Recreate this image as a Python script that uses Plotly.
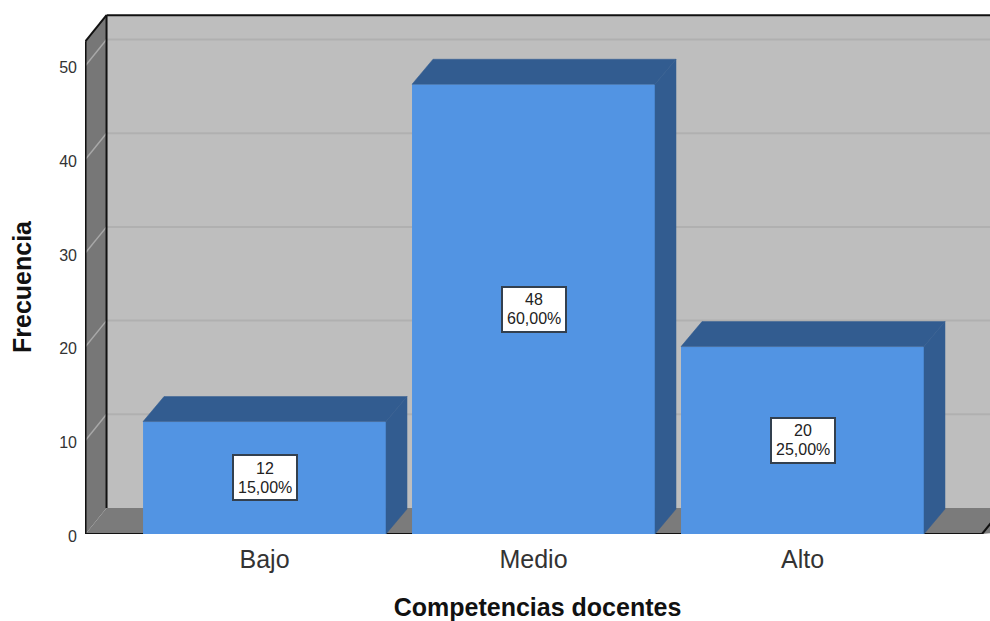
import plotly.graph_objects as go

categories = ["Bajo", "Medio", "Alto"]
counts = [12, 48, 20]
percents = ["15,00%", "60,00%", "25,00%"]
y_ticks = [0, 10, 20, 30, 40, 50]
x_title = "Competencias docentes"
y_title = "Frecuencia"

PX_X = 269.0
PX_Y = 9.37
DX = 21 / PX_X
DY = 26 / PX_Y
BAR_DY = 25 / PX_Y
BAR_W = 243 / PX_X
X_L = (85.5 - 264.5) / PX_X
X_R = (990 - 264.5) / PX_X
X_FLOOR_R = (982 - 264.5) / PX_X
Y_TOP = 52.6
Y_MAX = 534 / PX_Y
FRONT = "#5294e3"
DARK = "#325c90"
WALL = "#bebebe"
SIDE = "#777777"
FLOOR = "#7b7b7b"
GRID = "#b0b0b0"
FONT = "Liberation Sans, Arial, sans-serif"
X_FAR = X_R + 1

fig = go.Figure()
fig.add_trace(go.Bar(x=list(range(3)), y=counts, width=BAR_W,
                     marker=dict(color=FRONT, line=dict(width=0)),
                     hoverinfo="skip", showlegend=False))

for i, v in enumerate(counts):
    l, r = i - BAR_W / 2, i + BAR_W / 2
    fig.add_trace(go.Scatter(
        x=[l, r, r + DX, l + DX, l], y=[v, v, v + BAR_DY, v + BAR_DY, v],
        mode="lines", fill="toself", fillcolor=DARK, line=dict(color=DARK, width=0.5),
        hoverinfo="skip", showlegend=False))
    fig.add_trace(go.Scatter(
        x=[r, r + DX, r + DX, r, r], y=[0, BAR_DY, v + BAR_DY, v, 0],
        mode="lines", fill="toself", fillcolor=DARK, line=dict(color=DARK, width=0.5),
        hoverinfo="skip", showlegend=False))

def poly(xs, ys, fill, layer="below"):
    p = "M " + " L ".join(f"{a},{b}" for a, b in zip(xs, ys)) + " Z"
    return dict(type="path", path=p, xref="x", yref="y", fillcolor=fill,
                line=dict(width=0), layer=layer)

def seg(x0, y0, x1, y1, color, w):
    return dict(type="line", xref="x", yref="y", x0=x0, y0=y0, x1=x1, y1=y1,
                line=dict(color=color, width=w), layer="below")

shapes = [
    poly([X_L + DX, X_FAR, X_FAR, X_L + DX], [DY, DY, Y_TOP + DY, Y_TOP + DY], WALL),
    poly([X_L, X_L + DX, X_L + DX, X_L], [0, DY, Y_TOP + DY, Y_TOP], SIDE),
    poly([X_L, X_L + DX, X_FAR, X_FLOOR_R], [0, DY, DY, 0], FLOOR),
]
for t in y_ticks[1:]:
    shapes.append(seg(X_L, t, X_L + DX, t + DY, "#a8a8a8", 1.5))
    shapes.append(seg(X_L + DX, t + DY, X_FAR, t + DY, GRID, 2))
shapes += [
    seg(X_L, 0, X_L, Y_TOP, "#111111", 2),
    seg(X_L + DX, DY, X_L + DX, Y_TOP + DY, "#111111", 2),
    seg(X_L, Y_TOP, X_L + DX, Y_TOP + DY, "#111111", 2),
    seg(X_L + DX, Y_TOP + DY, X_FAR, Y_TOP + DY, "#111111", 2),
    seg(X_L, 0, X_FLOOR_R, 0, "#111111", 2),
    seg(X_FLOOR_R, 0, X_FLOOR_R + DX, DY, "#111111", 2),
]

annotations = []
for i, (v, pct) in enumerate(zip(counts, percents)):
    annotations.append(dict(x=i, y=v / 2, xref="x", yref="y", text=" ", showarrow=False,
                            width=62, height=43, bgcolor="white", bordercolor="#33404f",
                            borderwidth=2, borderpad=0, font=dict(size=12)))
    annotations.append(dict(x=i, y=v / 2, xref="x", yref="y", yshift=9.5, text=str(v),
                            showarrow=False, font=dict(family=FONT, size=16, color="#222222")))
    annotations.append(dict(x=i, y=v / 2, xref="x", yref="y", yshift=-9.5, text=pct,
                            showarrow=False, font=dict(family=FONT, size=16, color="#222222")))
annotations.append(dict(xref="paper", yref="paper", x=(22 - 85) / 905, y=1 - 287 / 534,
                        xanchor="center", yanchor="middle", text=y_title,
                        textangle=-90, showarrow=False,
                        font=dict(family=FONT, size=25, color="#111111", weight="bold")))

fig.update_layout(
    width=990, height=621, margin=dict(l=85, r=0, t=0, b=87),
    paper_bgcolor="white", plot_bgcolor="white", showlegend=False,
    font=dict(family=FONT), shapes=shapes, annotations=annotations,
    xaxis=dict(range=[X_L - 0.002, X_R], tickmode="array", tickvals=list(range(3)),
               ticktext=categories, showgrid=False, zeroline=False, showline=False,
               ticks="", tickfont=dict(size=25, color="#333333"), ticklabelstandoff=8,
               title=dict(text=x_title, standoff=27,
                          font=dict(size=25, color="#111111", weight="bold"))),
    yaxis=dict(range=[0, Y_MAX], tickmode="array", tickvals=y_ticks,
               showgrid=False, zeroline=False, showline=False, ticks="",
               ticklabelstandoff=7, ticklabelshift=2,
               tickfont=dict(size=16, color="#333333")),
)
fig.write_html("out.html", config={"displayModeBar": False},
               post_script="document.body.style.margin='0';")
